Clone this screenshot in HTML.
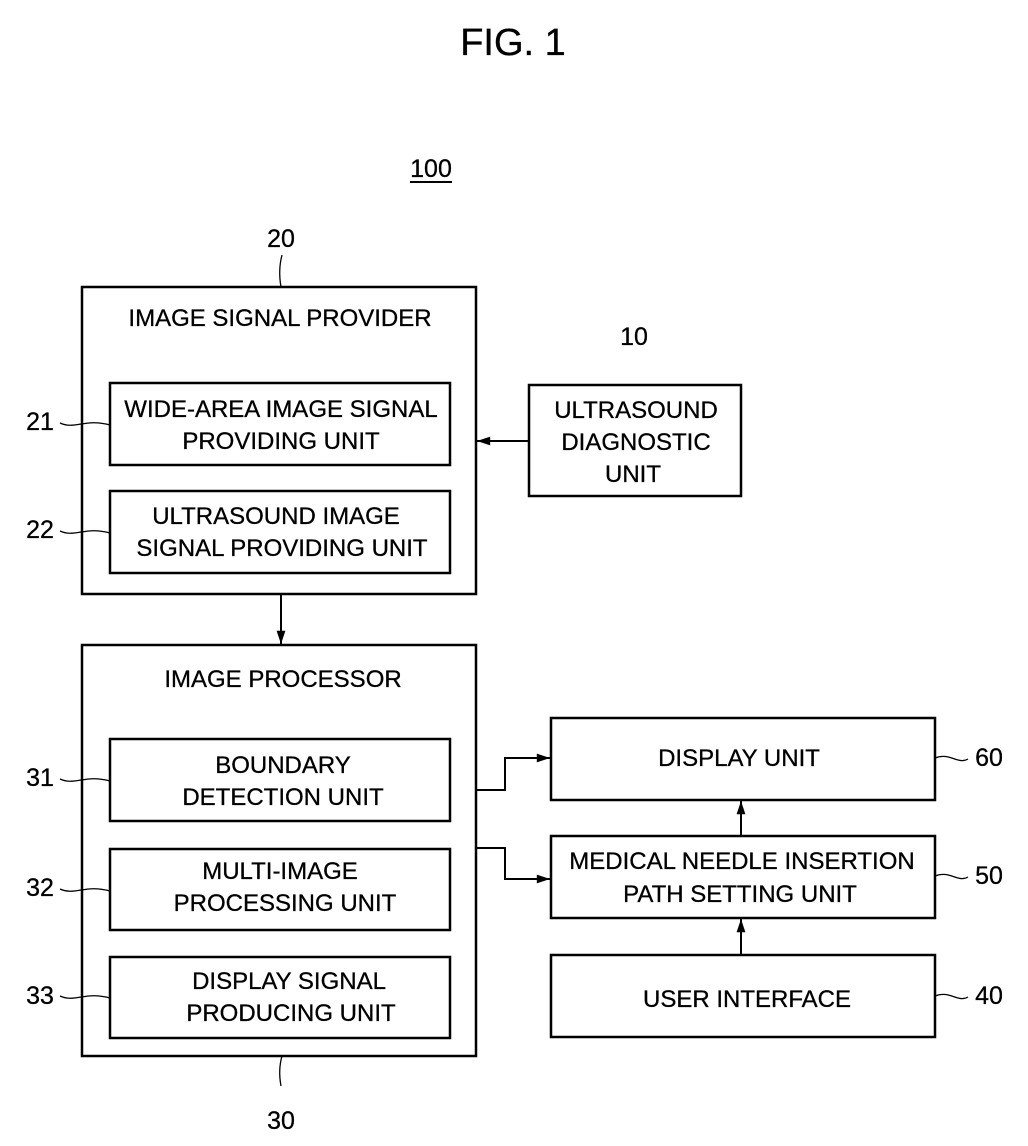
<!DOCTYPE html>
<html><head><meta charset="utf-8"><style>
html,body{margin:0;padding:0;background:#fff;}
svg{display:block;}
text{font-family:"Liberation Sans",sans-serif;fill:#000;stroke:#000;stroke-width:0.3;}
</style></head><body>
<svg width="1028" height="1146" viewBox="0 0 1028 1146" xmlns="http://www.w3.org/2000/svg">
<defs><marker id="a" viewBox="0 0 12 10" refX="12" refY="5" markerWidth="14" markerHeight="11" markerUnits="userSpaceOnUse" orient="auto"><path d="M0,1 L12,5 L0,9 z" fill="#000"/></marker></defs>
<g fill="none" stroke="#000" stroke-width="2.5">
<rect x="82" y="287" width="394" height="307"/>
<rect x="110" y="383" width="340" height="82"/>
<rect x="110" y="491" width="340" height="82"/>
<rect x="529" y="385" width="212" height="111"/>
<rect x="82" y="645" width="394" height="411"/>
<rect x="110" y="739" width="340" height="82"/>
<rect x="110" y="849" width="340" height="81"/>
<rect x="110" y="957" width="340" height="81"/>
<rect x="551" y="718" width="384" height="82"/>
<rect x="551" y="836" width="384" height="82"/>
<rect x="551" y="955" width="384" height="82"/>
</g>
<g fill="none" stroke="#000" stroke-width="2">
<line x1="529" y1="441" x2="477" y2="441" marker-end="url(#a)"/>
<line x1="281" y1="594" x2="281" y2="644" marker-end="url(#a)"/>
<polyline points="476,790 505,790 505,758 550,758" marker-end="url(#a)"/>
<polyline points="476,848 505,848 505,879 550,879" marker-end="url(#a)"/>
<line x1="741" y1="836" x2="741" y2="801" marker-end="url(#a)"/>
<line x1="741" y1="955" x2="741" y2="919" marker-end="url(#a)"/>
<line x1="410" y1="182" x2="452" y2="182"/>
</g>
<g fill="none" stroke="#000" stroke-width="1.3">
<path d="M282,255 Q278,270 281,287"/>
<path d="M282,1056 Q278,1070 281,1086"/>
<path d="M60,423 C75,430 85,418 110,425"/>
<path d="M60,531 C75,538 85,526 110,533"/>
<path d="M60,779 C75,786 85,774 110,781"/>
<path d="M60,889 C75,896 85,884 110,891"/>
<path d="M60,996 C75,1003 85,991 110,998"/>
<path d="M935,758 C950,752 958,765 968,759"/>
<path d="M935,876 C950,870 958,883 968,877"/>
<path d="M935,996 C950,990 958,1003 968,997"/>
</g>
<g font-size="24" text-anchor="middle">
<text x="513" y="55" font-size="38">FIG. 1</text>
<text x="431" y="177" font-size="25">100</text>
<text x="281" y="247" font-size="25">20</text>
<text x="634" y="345" font-size="25">10</text>
<text x="281" y="1129" font-size="25">30</text>
<text x="40" y="430" font-size="25">21</text>
<text x="40" y="538" font-size="25">22</text>
<text x="40" y="786" font-size="25">31</text>
<text x="40" y="896" font-size="25">32</text>
<text x="40" y="1004" font-size="25">33</text>
<text x="989" y="766" font-size="25">60</text>
<text x="989" y="884" font-size="25">50</text>
<text x="989" y="1004" font-size="25">40</text>
<text x="280" y="326">IMAGE SIGNAL PROVIDER</text>
<text x="281" y="417">WIDE-AREA IMAGE SIGNAL</text>
<text x="281" y="449">PROVIDING UNIT</text>
<text x="276" y="524">ULTRASOUND IMAGE</text>
<text x="282" y="556">SIGNAL PROVIDING UNIT</text>
<text x="636" y="418">ULTRASOUND</text>
<text x="636" y="450">DIAGNOSTIC</text>
<text x="633" y="482">UNIT</text>
<text x="283" y="687">IMAGE PROCESSOR</text>
<text x="283" y="773">BOUNDARY</text>
<text x="283" y="805">DETECTION UNIT</text>
<text x="280" y="879">MULTI-IMAGE</text>
<text x="285" y="911">PROCESSING UNIT</text>
<text x="289" y="989">DISPLAY SIGNAL</text>
<text x="291" y="1021">PRODUCING UNIT</text>
<text x="739" y="766">DISPLAY UNIT</text>
<text x="742" y="869">MEDICAL NEEDLE INSERTION</text>
<text x="740" y="902">PATH SETTING UNIT</text>
<text x="747" y="1007">USER INTERFACE</text>
</g>
</svg>
</body></html>
